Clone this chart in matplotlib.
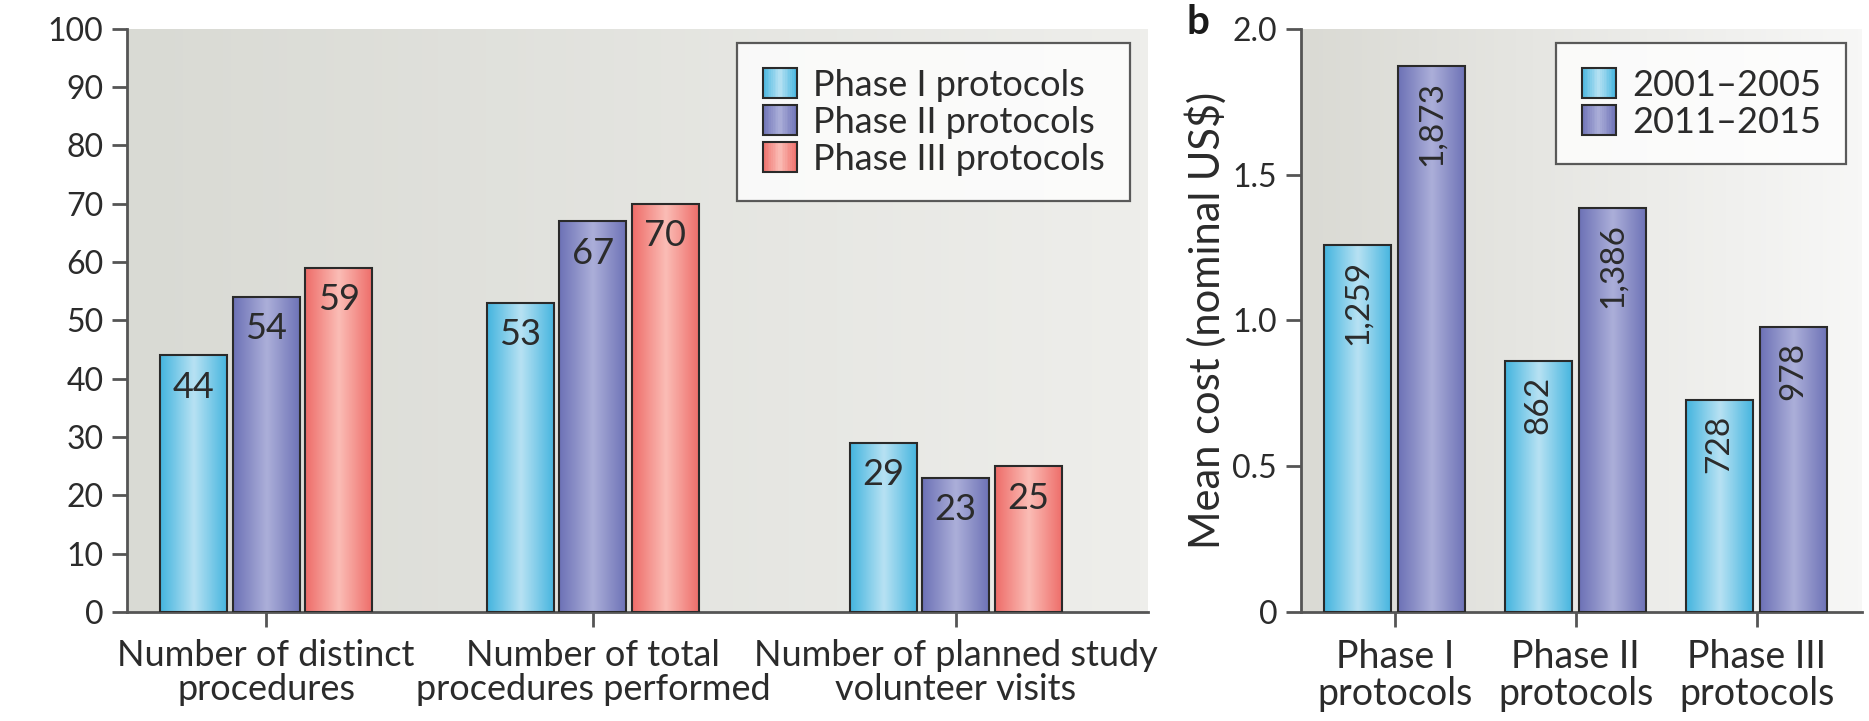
import numpy as np
import matplotlib
matplotlib.use('Agg')
import matplotlib.pyplot as plt
from matplotlib.colors import LinearSegmentedColormap
from matplotlib.patches import Patch, Rectangle
from matplotlib.legend_handler import HandlerBase

plt.rcParams['font.family'] = ['Lato', 'DejaVu Sans']

# ---- data: panel a ----
measures = ['Number of distinct\nprocedures', 'Number of total\nprocedures performed',
            'Number of planned study\nvolunteer visits']
phase_labels = ['Phase I protocols', 'Phase II protocols', 'Phase III protocols']
phase1 = [44, 53, 29]
phase2 = [54, 67, 23]
phase3 = [59, 70, 25]
a_yticks = list(range(0, 101, 10))

# ---- data: panel b ----
phases = ['Phase I\nprotocols', 'Phase II\nprotocols', 'Phase III\nprotocols']
period_labels = ['2001\u20132005', '2011\u20132015']
cost_0105 = [1259, 862, 728]
cost_1115 = [1873, 1386, 978]
b_yticks = [0, 0.5, 1.0, 1.5, 2.0]
b_yticklabels = ['0', '0.5', '1.0', '1.5', '2.0']

# group positions on the x axis (the original spacing is not quite even)
a_pos = np.array([0, 1, 2.11])
b_pos = np.arange(len(phases))

# colour pairs: (edge, centre) of the horizontal bar gradient
CYAN = ('#45b5df', '#b8e2f3')
PURPLE = ('#6d72b6', '#acafd9')
RED = ('#ee6d69', '#fbbdb6')
TXT = '#2b2b2b'
SPINE = '#555555'


def grad_cmap(pair):
    return LinearSegmentedColormap.from_list('g', [pair[0], pair[1], pair[0]])


class GradientHandler(HandlerBase):
    """legend key drawn as a small gradient square, like the bars"""
    def __init__(self, pair):
        super().__init__()
        self.pair = pair

    def create_artists(self, legend, orig_handle, xdescent, ydescent,
                       width, height, fontsize, trans):
        cmap = grad_cmap(self.pair)
        n = 20
        arts = []
        for i in range(n):
            arts.append(Rectangle((-xdescent + width * i / n, -ydescent), width / n * 1.1,
                                  height, facecolor=cmap((i + 0.5) / n), edgecolor='none',
                                  transform=trans))
        arts.append(Rectangle((-xdescent, -ydescent), width, height, facecolor='none',
                              edgecolor='#2a2a2a', linewidth=1.5, transform=trans))
        return arts


def gradient_bars(ax, x, heights, width, pair):
    bars = ax.bar(x, heights, width, facecolor='none', edgecolor='#2a2a2a',
                  linewidth=1.5, zorder=4)
    grad = np.linspace(0, 1, 64).reshape(1, -1)
    for b in bars:
        ax.imshow(grad, cmap=grad_cmap(pair), aspect='auto', zorder=3,
                  extent=[b.get_x(), b.get_x() + b.get_width(), 0, b.get_height()],
                  interpolation='bicubic')
    return bars


def background(ax, c_left, c_right):
    cmap = LinearSegmentedColormap.from_list('bg', [c_left, c_right])
    grad = np.linspace(0, 1, 128).reshape(1, -1)
    ax.imshow(grad, cmap=cmap, aspect='auto', extent=[0, 1, 0, 1],
              transform=ax.transAxes, zorder=0)


def style_axes(ax, xsize):
    for s in ['top', 'right']:
        ax.spines[s].set_visible(False)
    for s in ['left', 'bottom']:
        ax.spines[s].set_color(SPINE)
        ax.spines[s].set_linewidth(2)
    ax.tick_params(axis='both', colors=SPINE, length=11, width=2, labelcolor=TXT)
    ax.tick_params(axis='y', labelsize=23, pad=6)
    ax.tick_params(axis='x', labelsize=xsize, pad=8)


def add_legend(ax, pairs, labels, anchor):
    handles = [Patch() for _ in pairs]
    hmap = {h: GradientHandler(p) for h, p in zip(handles, pairs)}
    leg = ax.legend(handles, labels, loc='upper right', bbox_to_anchor=anchor,
                    handler_map=hmap,
                    fontsize=26, frameon=True, fancybox=False, handlelength=0.95,
                    handleheight=0.9, handletextpad=0.45, labelspacing=0.1,
                    borderpad=0.7, borderaxespad=0, labelcolor=TXT)
    leg.get_frame().set_edgecolor('#333333')
    leg.get_frame().set_linewidth(1.6)
    leg.set_zorder(6)
    return leg


fig = plt.figure(figsize=(18.69, 7.21), dpi=100)

# ---------------- panel a ----------------
ax = fig.add_axes([0.068, 0.151, 0.546, 0.809])
background(ax, '#d9dad4', '#eeeeeb')
w = 0.205
off = 0.222
for vals, pair, dx in [(phase1, CYAN, -off), (phase2, PURPLE, 0), (phase3, RED, off)]:
    bars = gradient_bars(ax, a_pos + dx, vals, w, pair)
    for b, v in zip(bars, vals):
        ax.annotate(str(v), (b.get_x() + b.get_width() / 2, b.get_height()),
                    xytext=(0, -11), textcoords='offset points', ha='center', va='top',
                    fontsize=26, color=TXT, zorder=5)
ax.set_xlim(-0.425, 2.697)
ax.set_ylim(0, 100)
ax.set_yticks(a_yticks)
ax.set_xticks(a_pos)
ax.set_xticklabels(measures, linespacing=1.06)
style_axes(ax, 26)
add_legend(ax, [CYAN, PURPLE, RED], phase_labels, (0.983, 0.976))

# ---------------- panel b ----------------
bx = fig.add_axes([0.696, 0.151, 0.300, 0.809])
background(bx, '#dadad4', '#f7f7f6')
wb = 0.372
offb = 0.205
for vals, pair, dx in [(cost_0105, CYAN, -offb), (cost_1115, PURPLE, offb)]:
    heights = [v / 1000 for v in vals]
    bars = gradient_bars(bx, b_pos + dx, heights, wb, pair)
    for b, v in zip(bars, vals):
        bx.annotate(f'{v:,}', (b.get_x() + b.get_width() / 2, b.get_height()),
                    xytext=(0, -11), textcoords='offset points', ha='center', va='top',
                    rotation=90, fontsize=24, color=TXT, zorder=5)
bx.set_xlim(-0.519, 2.58)
bx.set_ylim(0, 2.0)
bx.set_yticks(b_yticks)
bx.set_yticklabels(b_yticklabels)
bx.set_xticks(b_pos)
bx.set_xticklabels(phases, linespacing=1.06)
style_axes(bx, 27)
bx.set_ylabel('Mean cost (nominal US$)', fontsize=30, color=TXT, labelpad=4)
add_legend(bx, [CYAN, PURPLE], period_labels, (0.973, 0.976))

fig.text(0.635, 0.995, 'b', fontsize=29, fontweight='bold', color='#1a1a1a',
         ha='left', va='top')

fig.savefig('out.png', dpi=100, facecolor='white')
